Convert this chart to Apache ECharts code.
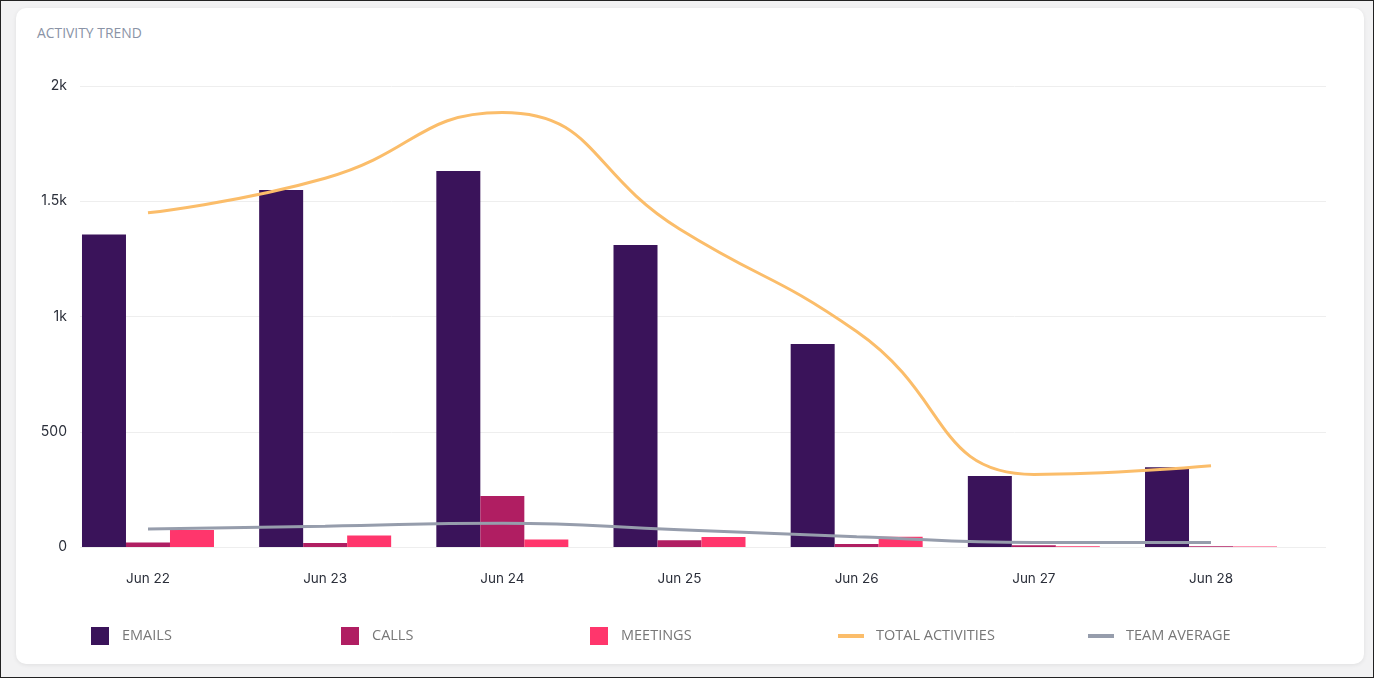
<!DOCTYPE html>
<html><head><meta charset="utf-8">
<script src="https://cdn.jsdelivr.net/npm/echarts@6/dist/echarts.min.js"></script>
<style>
html,body{margin:0;padding:0;width:1374px;height:678px;overflow:hidden;background:#f2f2f3;}
#frame{position:absolute;left:0;top:0;width:1372px;height:676px;border:1px solid #222;}
#card{position:absolute;left:16px;top:8px;width:1348px;height:656px;background:#fff;border-radius:10px;box-shadow:0 1px 4px rgba(0,0,0,0.08);}
#title{position:absolute;left:37px;top:23px;font-family:'Open Sans',sans-serif;font-size:13.9px;color:#8a93a6;}
#chart{position:absolute;left:0;top:0;width:1374px;height:678px;}
</style></head>
<body>
<div id="frame"></div>
<div id="card"></div>
<div id="title">ACTIVITY TREND</div>
<div id="chart"></div>
<script>
var categories = ['Jun 22','Jun 23','Jun 24','Jun 25','Jun 26','Jun 27','Jun 28'];
var emails = [1356, 1549, 1631, 1310, 881, 308, 346];
var calls = [20, 17, 221, 29, 13, 8, 3];
var meetings = [74, 50, 33, 43, 45, 3, 2];
var totalActivities = [1450, 1600, 1885, 1380, 935, 315, 353];
var teamAverage = [78, 90, 103, 75, 45, 20, 20];
var yTicks = {0:'0',500:'500',1000:'1k',1500:'1.5k',2000:'2k'};

var chart = echarts.init(document.getElementById('chart'));
var legendText = {fontFamily:'Open Sans',fontSize:14.5,color:'#777'};
function lg(name, left, isLine){
  return {data:[name], left:left, top:627, itemWidth:isLine?26:18, itemHeight:isLine?4:18,
    icon:'rect', itemGap:0, padding:0, height:18,
    textStyle:Object.assign({padding:[0,0,0,isLine?7:8], lineHeight:18},legendText)};
}
chart.setOption({
  animation:false,
  legend:[lg('EMAILS',91,false),lg('CALLS',341,false),lg('MEETINGS',590,false),
          lg('TOTAL ACTIVITIES',838,true),lg('TEAM AVERAGE',1088,true)],
  grid:[{left:59.4,right:74.4,top:86,bottom:131},{left:80,right:48,top:86,bottom:131}],
  xAxis:[{type:'category',data:categories,gridIndex:0,axisLine:{show:false},axisTick:{show:false},
          axisLabel:{margin:25,fontFamily:'Inter',fontSize:13.5,color:'#2b2f3a'}},
         {type:'category',data:categories,gridIndex:1,show:false}],
  yAxis:[{type:'value',gridIndex:0,min:0,max:2000,interval:500,axisLabel:{show:false},splitLine:{show:false}},
         {type:'value',gridIndex:1,min:0,max:2000,interval:500,
          axisLabel:{margin:13,fontFamily:'Inter',fontSize:14,color:'#2b2f3a',formatter:function(v){return yTicks[v];}},
          splitLine:{lineStyle:{color:'#eeeeee',width:1}}}],
  series:[
    {name:'EMAILS',type:'bar',data:emails,barWidth:44,barGap:'0%',itemStyle:{color:'#3a135a'}},
    {name:'CALLS',type:'bar',data:calls,barWidth:44,barGap:'0%',itemStyle:{color:'#b01e62'}},
    {name:'MEETINGS',type:'bar',data:meetings,barWidth:44,barGap:'0%',itemStyle:{color:'#ff366c'}},
    {name:'TOTAL ACTIVITIES',type:'line',data:totalActivities,smooth:0.5,symbol:'none',
      lineStyle:{color:'#fbbd6a',width:3},itemStyle:{color:'#fbbd6a'}},
    {name:'TEAM AVERAGE',type:'line',data:teamAverage,smooth:0.5,symbol:'none',
      lineStyle:{color:'#969dac',width:3},itemStyle:{color:'#969dac'}}
  ]
});
</script>
</body></html>
